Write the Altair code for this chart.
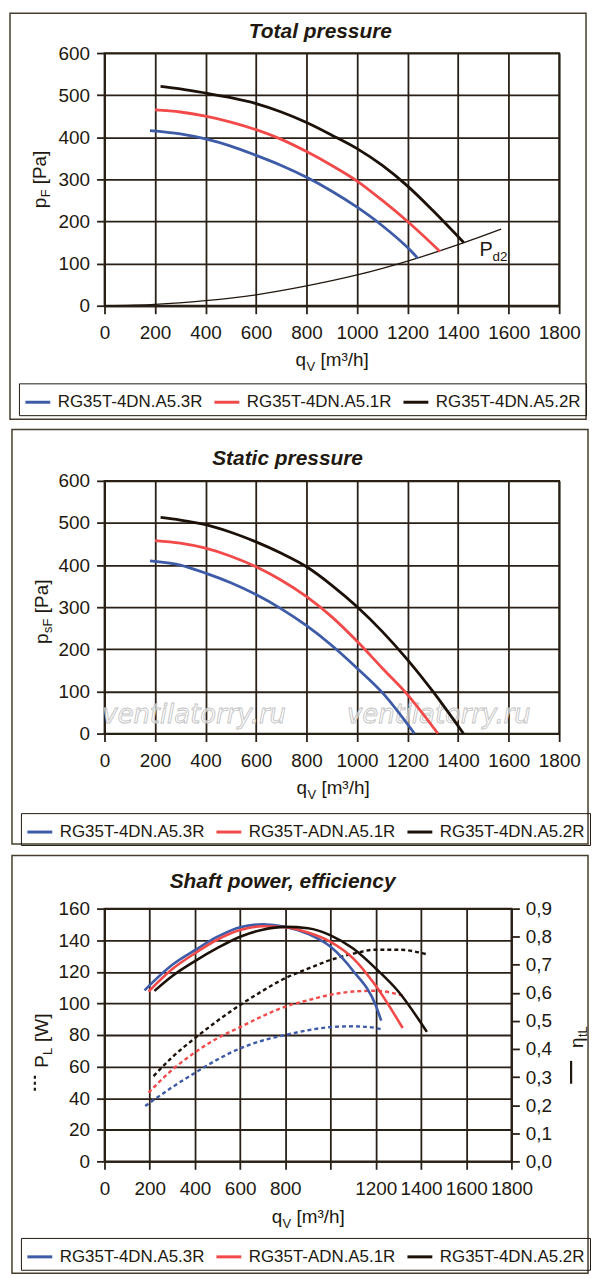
import altair as alt
import pandas as pd

FONT = "Liberation Sans"
INK = "#21180f"
GRID = "#2a2016"
FRAME = "#463d2e"
COLORS = ["#3e5ba8", "#f24949", "#1b1109"]

# ---------------- data ----------------
labels_total = ["RG35T-4DN.A5.3R", "RG35T-4DN.A5.1R", "RG35T-4DN.A5.2R"]
labels_other = ["RG35T-4DN.A5.3R", "RG35T-ADN.A5.1R", "RG35T-4DN.A5.2R"]

x_ticks = [0, 200, 400, 600, 800, 1000, 1200, 1400, 1600, 1800]
p_ticks = [0, 100, 200, 300, 400, 500, 600]
pl_ticks = [0, 20, 40, 60, 80, 100, 120, 140, 160]
eta_ticks = [0.0, 0.1, 0.2, 0.3, 0.4, 0.5, 0.6, 0.7, 0.8, 0.9]

# Total pressure
tp_q_3r = [180, 300, 400, 500, 600, 700, 800, 900, 1000, 1100, 1200, 1240]
tp_p_3r = [416, 408, 396, 379, 357, 333, 305, 272, 234, 190, 138, 113]
tp_q_1r = [200, 300, 400, 500, 600, 700, 800, 900, 1000, 1100, 1200, 1328]
tp_p_1r = [465, 460, 450, 436, 418, 395, 366, 333, 296, 250, 200, 129]
tp_q_2r = [222, 300, 400, 500, 600, 700, 800, 900, 1000, 1100, 1200, 1300, 1422]
tp_p_2r = [521, 515, 505, 494, 480, 460, 435, 405, 373, 333, 284, 226, 150]

pd2_q = [0, 200, 400, 600, 800, 1000, 1200, 1400, 1570]
pd2_p = [0, 3, 12, 26, 47, 73, 106, 145, 182]

# Static pressure
sp_q_3r = [180, 300, 400, 500, 600, 700, 800, 900, 1000, 1100, 1227]
sp_p_3r = [410, 400, 381, 358, 330, 296, 256, 209, 155, 97, 0]
sp_q_1r = [200, 300, 400, 500, 600, 700, 800, 900, 1000, 1100, 1200, 1320]
sp_p_1r = [458, 452, 440, 421, 396, 364, 325, 277, 219, 155, 92, 0]
sp_q_2r = [222, 300, 400, 500, 600, 700, 800, 900, 1000, 1100, 1200, 1300, 1421]
sp_p_2r = [513, 507, 496, 478, 455, 428, 396, 352, 301, 242, 175, 100, 0]

# Efficiency (solid, right axis)
eta_q_3r = [177, 300, 400, 500, 600, 700, 800, 900, 1000, 1100, 1200, 1224]
eta_3r = [0.609, 0.700, 0.752, 0.800, 0.834, 0.844, 0.835, 0.810, 0.764, 0.678, 0.555, 0.501]
eta_q_1r = [195, 300, 400, 500, 600, 700, 800, 900, 1000, 1100, 1200, 1319]
eta_1r = [0.605, 0.685, 0.741, 0.790, 0.824, 0.837, 0.834, 0.815, 0.782, 0.723, 0.625, 0.475]
eta_q_2r = [221, 300, 400, 500, 600, 700, 800, 900, 1000, 1100, 1200, 1300, 1426]
eta_2r = [0.607, 0.660, 0.713, 0.760, 0.800, 0.825, 0.835, 0.830, 0.805, 0.758, 0.687, 0.605, 0.461]

# Shaft power (dashed, left axis)
pw_q_3r = [180, 300, 400, 500, 600, 700, 800, 900, 1000, 1100, 1200, 1224]
pw_3r = [35, 47, 56, 64.5, 71.5, 76.5, 80, 83, 85, 85.5, 84.5, 83.5]
pw_q_1r = [195, 300, 400, 500, 600, 700, 800, 900, 1000, 1100, 1200, 1319]
pw_1r = [43.5, 58, 69, 78, 85, 92, 98, 102, 105.5, 107.5, 108, 105]
pw_q_2r = [217, 300, 400, 500, 600, 700, 800, 900, 1000, 1100, 1200, 1300, 1429]
pw_2r = [54, 66, 78, 89, 99, 108, 116, 122, 127.5, 131.5, 134, 134, 131]


# ---------------- helpers ----------------
def long_df(labels, qs, vs, field):
    rows = []
    for lab, q, v in zip(labels, qs, vs):
        for a, b in zip(q, v):
            rows.append({"q": a, field: b, "model": lab})
    return pd.DataFrame(rows)


one = pd.DataFrame({"k": [0]})


def txt(text, x, y, size=19, angle=0, align="left", weight="normal", style="normal"):
    return alt.Chart(one).mark_text(
        text=text, font=FONT, fontSize=size, angle=angle, align=align,
        baseline="alphabetic", fontWeight=weight, fontStyle=style, color=INK,
    ).encode(x=alt.value(x), y=alt.value(y))


def box(x1, x2, y1, y2):
    return alt.Chart(one).mark_rect(fillOpacity=0, stroke=FRAME, strokeWidth=1.5).encode(
        x=alt.value(x1), x2=alt.value(x2), y=alt.value(y1), y2=alt.value(y2))


def rule(x1, x2, y1, y2, width=2.0, dash=None):
    kw = dict(color=INK, strokeWidth=width)
    if dash:
        kw["strokeDash"] = dash
    return alt.Chart(one).mark_rule(**kw).encode(
        x=alt.value(x1), x2=alt.value(x2), y=alt.value(y1), y2=alt.value(y2))


def xenc(hide_1000=False):
    kw = dict(values=x_ticks, format="d", title=None)
    if hide_1000:
        kw["labelExpr"] = "datum.value == 1000 ? '' : datum.label"
    return alt.X("q:Q", scale=alt.Scale(domain=[0, 1800], nice=False), axis=alt.Axis(**kw))


def penc():
    return alt.Y("p:Q", scale=alt.Scale(domain=[0, 600], nice=False),
                 axis=alt.Axis(values=p_ticks, format="d", title=None))


def legend(x, y):
    return alt.Legend(
        orient="none", legendX=x, legendY=y, direction="horizontal", columns=3,
        title=None, symbolType="stroke", symbolSize=625, symbolStrokeWidth=3,
        labelFont=FONT, labelFontSize=17, labelColor=INK, labelOffset=6,
        labelLimit=400, columnPadding=5, strokeColor=INK, padding=5,
    )


def color(labels, lx, ly):
    return alt.Color("model:N", scale=alt.Scale(domain=labels, range=COLORS),
                     legend=legend(lx, ly))


# ---------------- panel 1: total pressure ----------------
W1, H = 457, 254
df_tot = long_df(labels_total, [tp_q_3r, tp_q_1r, tp_q_2r], [tp_p_3r, tp_p_1r, tp_p_2r], "p")
df_pd2 = pd.DataFrame({"q": pd2_q, "p": pd2_p})
df_pd2_lab = pd.DataFrame({"q": [1485], "p": [118]})

pd2_line = alt.Chart(df_pd2).mark_line(color=INK, strokeWidth=1.3, interpolate="monotone").encode(
    x=xenc(), y=penc())
curves1 = alt.Chart(df_tot).mark_line(strokeWidth=2.8, interpolate="monotone").encode(
    x=xenc(), y=penc(), color=color(labels_total, -86, 332))
pd2_P = alt.Chart(df_pd2_lab).mark_text(text="P", font=FONT, fontSize=20, align="left",
                                        baseline="alphabetic", color=INK).encode(x=xenc(), y=penc())
pd2_sub = alt.Chart(df_pd2_lab).mark_text(text="d2", font=FONT, fontSize=13.5, align="left",
                                          baseline="alphabetic", color=INK, dx=13, dy=5).encode(x=xenc(), y=penc())

panel1 = alt.layer(
    box(-95, 484, -40, 368),
    pd2_line, curves1, pd2_P, pd2_sub,
    txt("Total pressure", 217, -15, size=21, align="center", weight="bold", style="italic"),
    txt("q", 192, 315), txt("V", 203, 320, size=13), txt("[m³/h]", 217, 315),
    txt("p", -59, 156, angle=270), txt("F", -55, 145, size=13, angle=270),
    txt("[Pa]", -59, 132, angle=270),
).properties(width=W1, height=H)

# ---------------- panel 2: static pressure ----------------
df_st = long_df(labels_other, [sp_q_3r, sp_q_1r, sp_q_2r], [sp_p_3r, sp_p_1r, sp_p_2r], "p")
curves2 = alt.Chart(df_st).mark_line(strokeWidth=2.8, interpolate="monotone").encode(
    x=xenc(), y=penc(), color=color(labels_other, -84, 334))


def watermark(x):
    return alt.Chart(one).mark_text(
        text="ventilatorry.ru", font="DejaVu Sans", fontSize=26, fontStyle="italic",
        align="center", baseline="alphabetic", fill="#ffffff", fillOpacity=0.6,
        stroke="#c4c4c4", strokeWidth=0.9,
    ).encode(x=alt.value(x), y=alt.value(243))


panel2 = alt.layer(
    box(-93, 486, -51.5, 365),
    watermark(90), watermark(336),
    curves2,
    txt("Static pressure", 184, -16, size=21, align="center", weight="bold", style="italic"),
    txt("q", 193, 315), txt("V", 204, 320, size=13), txt("[m³/h]", 218, 315),
    txt("p", -57, 164, angle=270), txt("sF", -53, 153, size=13, angle=270),
    txt("[Pa]", -57, 133, angle=270),
).properties(width=W1, height=H)

# ---------------- panel 3: shaft power, efficiency ----------------
W3 = 409
df_pw = long_df(labels_other, [pw_q_3r, pw_q_1r, pw_q_2r], [pw_3r, pw_1r, pw_2r], "P")
df_eta = long_df(labels_other, [eta_q_3r, eta_q_1r, eta_q_2r], [eta_3r, eta_1r, eta_2r], "eta")

dashed = alt.Chart(df_pw).mark_line(strokeWidth=2.4, strokeDash=[4, 3], interpolate="monotone").encode(
    x=xenc(True),
    y=alt.Y("P:Q", scale=alt.Scale(domain=[0, 160], nice=False),
            axis=alt.Axis(values=pl_ticks, format="d", title=None, orient="left")),
    color=color(labels_other, -84, 331),
)
solid = alt.Chart(df_eta).mark_line(strokeWidth=2.6, interpolate="monotone").encode(
    x=xenc(True),
    y=alt.Y("eta:Q", scale=alt.Scale(domain=[0, 0.9], nice=False),
            axis=alt.Axis(values=eta_ticks, title=None, orient="right", grid=False, labelPadding=6,
                          labelExpr="replace(format(datum.value, '.1f'), '.', ',')")),
    color=color(labels_other, -84, 331),
)

panel3 = alt.layer(
    box(-93, 486, -53.5, 366.5),
    dashed, solid,
    txt("Shaft power, efficiency", 179, -21, size=21, align="center", weight="bold", style="italic"),
    txt("q", 168, 316), txt("V", 179, 321, size=13), txt("[m³/h]", 193, 316),
    rule(-70, -70, 183, 165, width=2.2, dash=[3, 3]),
    txt("P", -57, 160, angle=270), txt("L", -53, 147, size=13, angle=270),
    txt("[W]", -57, 134, angle=270),
    rule(469, 469, 176, 153, width=2.2),
    txt("η", 481, 140, angle=270), txt("tL", 485, 129, size=13, angle=270),
).resolve_scale(y="independent").properties(width=W3, height=H)

chart = alt.vconcat(panel1, panel2, panel3, spacing=6).resolve_scale(
    color="independent"
).properties(padding=0, background="white").configure_view(
    stroke=GRID, strokeWidth=1.8
).configure_axis(
    gridColor=GRID, gridWidth=1.8, gridOpacity=1,
    domainColor=GRID, domainWidth=1.8,
    tickColor=GRID, tickWidth=1.8, tickSize=8,
    labelFont=FONT, labelFontSize=19, labelColor=INK,
    labelFlush=False, labelOverlap=False,
).configure_axisX(labelPadding=10).configure_axisY(labelPadding=7)

chart.save("out.html", embed_options={"renderer": "svg", "actions": False})
